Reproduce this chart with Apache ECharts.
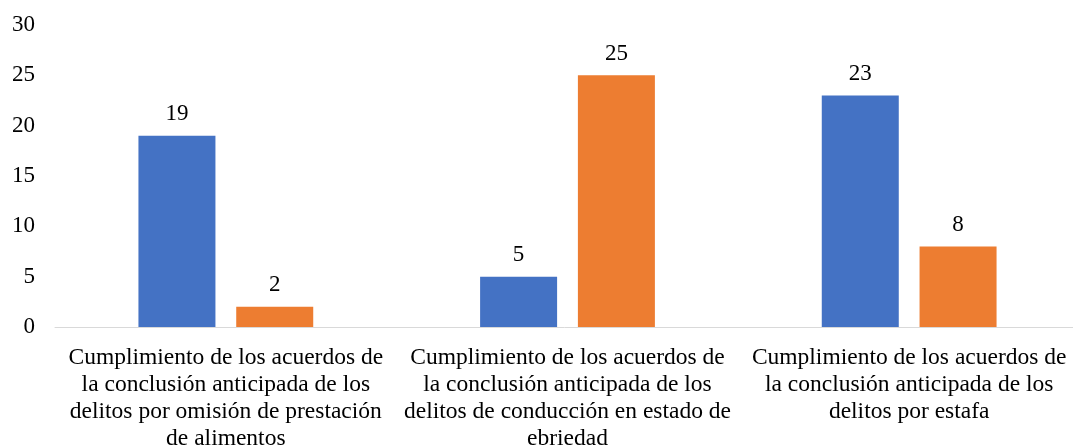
<!DOCTYPE html>
<html>
<head>
<meta charset="utf-8">
<script src="https://cdn.jsdelivr.net/npm/echarts@6/dist/echarts.min.js"></script>
<style>
  html, body { margin: 0; padding: 0; background: #fff; }
  #chart { width: 1073px; height: 447px; }
</style>
</head>
<body>
<div id="chart"></div>
<script>
const categories = [
  'Cumplimiento de los acuerdos de\nla conclusión anticipada de los\ndelitos por omisión de prestación\nde alimentos',
  'Cumplimiento de los acuerdos de\nla conclusión anticipada de los\ndelitos de conducción en estado de\nebriedad',
  'Cumplimiento de los acuerdos de\nla conclusión anticipada de los\ndelitos por estafa'
]
const serie1 = [19, 5, 23]
const serie2 = [2, 25, 8]

const font = '"Liberation Serif", "Times New Roman", serif'

const option = {
  animation: false,
  grid: {
    left: 55,
    right: -7,
    top: 25,
    bottom: 120,
    outerBoundsMode: 'none'
  },
  xAxis: {
    type: 'category',
    data: categories,
    axisLine: { lineStyle: { color: '#d9d9d9', width: 1 } },
    axisTick: { show: false },
    axisLabel: {
      interval: 0,
      margin: 17,
      fontFamily: font,
      fontSize: 23.5,
      lineHeight: 27,
      color: '#000'
    }
  },
  yAxis: {
    type: 'value',
    min: 0,
    max: 30,
    interval: 5,
    splitLine: { show: false },
    axisLine: { show: false },
    axisTick: { show: false },
    axisLabel: {
      margin: 20,
      fontFamily: font,
      fontSize: 23,
      color: '#000'
    }
  },
  series: [
    {
      type: 'bar',
      data: serie1,
      barWidth: 77,
      barGap: '27%',
      itemStyle: { color: '#4472c4' },
      label: {
        show: true,
        position: 'top',
        distance: 10,
        fontFamily: font,
        fontSize: 23,
        color: '#000'
      }
    },
    {
      type: 'bar',
      data: serie2,
      barWidth: 77,
      itemStyle: { color: '#ed7d31' },
      label: {
        show: true,
        position: 'top',
        distance: 10,
        fontFamily: font,
        fontSize: 23,
        color: '#000'
      }
    }
  ]
}

const myChart = echarts.init(document.getElementById('chart'))
myChart.setOption(option)
</script>
</body>
</html>
